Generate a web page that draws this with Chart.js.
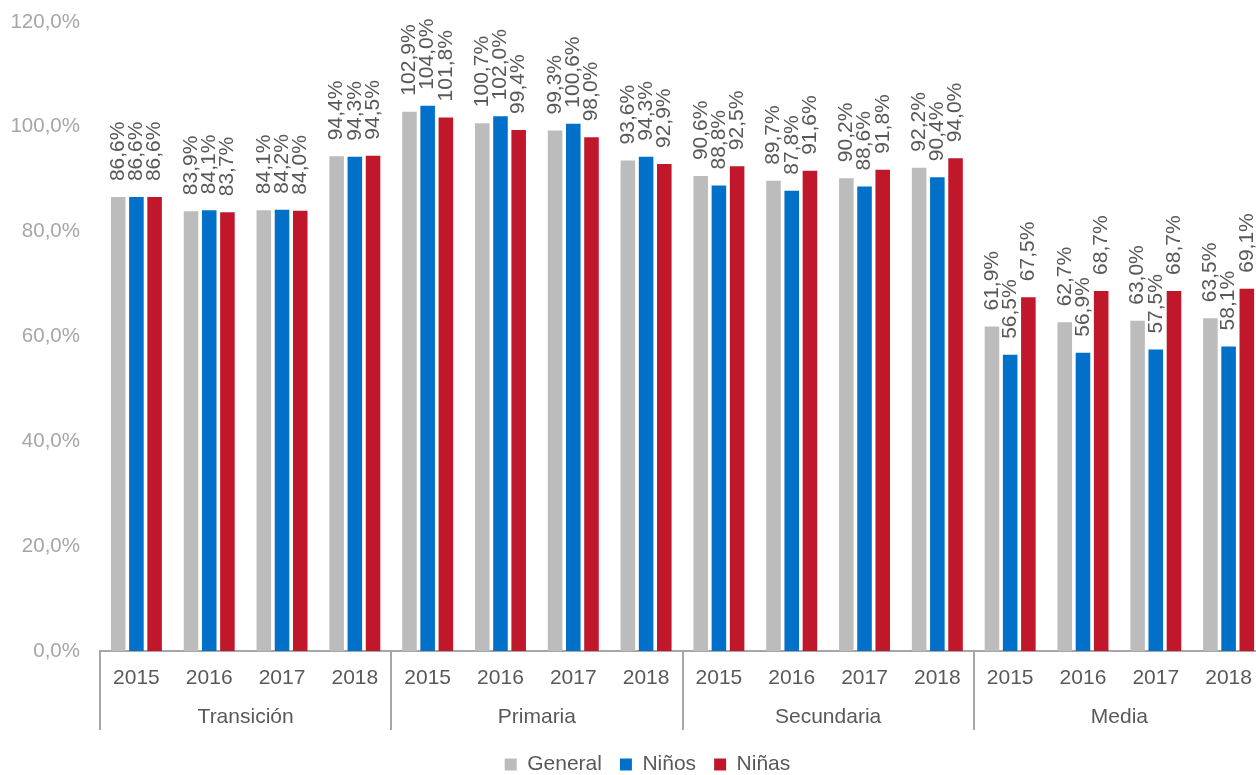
<!DOCTYPE html>
<html>
<head>
<meta charset="utf-8">
<script src="https://cdn.jsdelivr.net/npm/chart.js@4/dist/chart.umd.min.js"></script>
<style>
  html, body { margin: 0; padding: 0; background: #fff; overflow: hidden; }
  /* the original plot runs a few pixels past the right edge */
  #wrap { width: 1256px; height: 775px; overflow: hidden; }
</style>
</head>
<body>
<div id="wrap"><canvas id="chart" width="1265" height="775"></canvas></div>
<script>
const groups = ["Transición", "Primaria", "Secundaria", "Media"];
const years = ["2015", "2016", "2017", "2018"];

const general = [86.6, 83.9, 84.1, 94.4, 102.9, 100.7, 99.3, 93.6, 90.6, 89.7, 90.2, 92.2, 61.9, 62.7, 63.0, 63.5];
const ninos = [86.6, 84.1, 84.2, 94.3, 104.0, 102.0, 100.6, 94.3, 88.8, 87.8, 88.6, 90.4, 56.5, 56.9, 57.5, 58.1];
const ninas = [86.6, 83.7, 84.0, 94.5, 101.8, 99.4, 98.0, 92.9, 92.5, 91.6, 91.8, 94.0, 67.5, 68.7, 68.7, 69.1];

const yTicks = [0, 20, 40, 60, 80, 100, 120];

// one label per bar group: year, repeated for every level
const labels = [];
groups.forEach(() => years.forEach(y => labels.push(y)));

const FONT = '"Liberation Sans", Arial, sans-serif';
const DARK = "#595959";
const LIGHT = "#a6a6a6";

function pct(v) {
    return v.toFixed(1).replace(".", ",") + "%";
}

// rotated value labels above each bar
const valueLabels = {
    id: "valueLabels",
    afterDatasetsDraw(chart) {
        const ctx = chart.ctx;
        ctx.save();
        ctx.fillStyle = DARK;
        ctx.font = "21px " + FONT;
        ctx.textAlign = "left";
        ctx.textBaseline = "middle";
        chart.data.datasets.forEach((ds, i) => {
            chart.getDatasetMeta(i).data.forEach((bar, j) => {
                ctx.save();
                ctx.translate(bar.x, bar.y - 16);
                ctx.rotate(-Math.PI / 2);
                ctx.fillText(pct(ds.data[j]), 0, 0);
                ctx.restore();
            });
        });
        ctx.restore();
    }
};

// level names and separators under the year labels
const groupAxis = {
    id: "groupAxis",
    afterLayout(chart) {
        // nudge the legend, like the original
        const lg = chart.legend;
        lg.top += 10; lg.bottom += 10;
        lg.left += 15; lg.right += 15;
    },
    afterDraw(chart) {
        const ctx = chart.ctx;
        const x = chart.scales.x;
        const area = chart.chartArea;
        const step = x.getPixelForValue(1) - x.getPixelForValue(0);
        ctx.save();
        ctx.strokeStyle = LIGHT;
        ctx.lineWidth = 2;
        for (let g = 0; g <= groups.length; g++) {
            const px = Math.round(x.getPixelForValue(g * years.length) - step / 2);
            ctx.beginPath();
            ctx.moveTo(px, area.bottom);
            ctx.lineTo(px, area.bottom + 79);
            ctx.stroke();
        }
        ctx.fillStyle = DARK;
        ctx.font = "21px " + FONT;
        ctx.textAlign = "center";
        ctx.textBaseline = "middle";
        groups.forEach((name, g) => {
            const a = x.getPixelForValue(g * years.length);
            const b = x.getPixelForValue(g * years.length + years.length - 1);
            ctx.fillText(name, (a + b) / 2, area.bottom + 66);
        });
        ctx.restore();
    }
};

new Chart(document.getElementById("chart"), {
    type: "bar",
    data: {
        labels: labels,
        datasets: [
            { label: "General", data: general, backgroundColor: "#bcbcbc" },
            { label: "Niños", data: ninos, backgroundColor: "#0070c9" },
            { label: "Niñas", data: ninas, backgroundColor: "#c0172b" }
        ]
    },
    options: {
        responsive: false,
        animation: false,
        datasets: {
            bar: { categoryPercentage: 0.75, barPercentage: 0.8 }
        },
        layout: {
            padding: { top: 22, right: 0, left: 0, bottom: 0 }
        },
        plugins: {
            legend: {
                position: "bottom",
                labels: {
                    boxWidth: 12,
                    boxHeight: 12,
                    padding: 18,
                    color: DARK,
                    font: { size: 21, family: FONT }
                }
            },
            tooltip: { enabled: false }
        },
        scales: {
            x: {
                grid: { display: false, drawTicks: false },
                border: { color: LIGHT, width: 2 },
                ticks: {
                    color: DARK,
                    padding: 15,
                    autoSkip: false,
                    maxRotation: 0,
                    font: { size: 21, family: FONT }
                },
                afterFit(scale) {
                    scale.height = 75;
                    scale.paddingLeft = 0;
                    scale.paddingRight = 0;
                }
            },
            y: {
                min: 0,
                max: 120,
                grid: { display: false, drawTicks: false },
                border: { display: false },
                afterBuildTicks(scale) {
                    scale.ticks = yTicks.map(v => ({ value: v }));
                },
                afterFit(scale) {
                    scale.width = 100;
                    scale.paddingTop = 0;
                    scale.paddingBottom = 0;
                },
                ticks: {
                    color: LIGHT,
                    padding: 20,
                    font: { size: 20.5, family: FONT },
                    callback: v => pct(v)
                }
            }
        }
    },
    plugins: [valueLabels, groupAxis]
});
</script>
</body>
</html>
